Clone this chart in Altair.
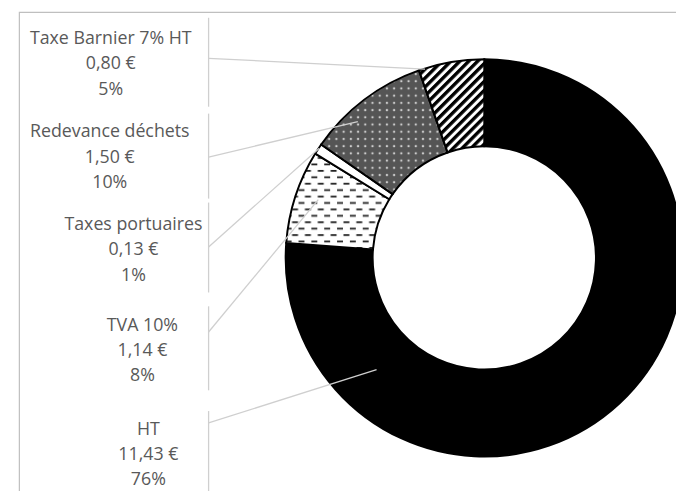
import altair as alt
import pandas as pd
import jinja2

# ---------------- data ----------------
CATEGORIES = ["HT", "TVA 10%", "Taxes portuaires", "Redevance déchets", "Taxe Barnier 7% HT"]
AMOUNTS = [11.43, 1.14, 0.13, 1.50, 0.80]

# ---------------- styles ----------------
FILLS = ["#000000", "url(#pTVA) #eeeeee", "#ffffff", "url(#pRed) #6b6b6b", "url(#pBar) #888888"]
TEXT_COLOR = "#595959"
LINE_COLOR = "#cfcfcf"

# ---------------- layout (chart pixels) ----------------
W, H = 676, 483
CX, CY, R_OUT, R_IN = 482, 250, 201, 113
LABEL_X = [142, 136, 127, 103, 104]
LABEL_Y = [429, 323.7, 222, 128, 33.7]
BAR_X = 203
BAR_Y = [405, 299, 194, 104, 7]
BAR_Y2 = [500, 384, 285, 190, 97]
LEAD_Y = [417, 325, 239, 148, 48]
LEAD_X2 = [373, 314, 315, 354, 422]
LEAD_Y2 = [363, 191, 139, 112, 59]

total = sum(AMOUNTS)
labels = [
    f"{c}\n{a:.2f}".replace(".", ",") + " €" + f"\n{round(100 * a / total)}%"
    for c, a in zip(CATEGORIES, AMOUNTS)
]

df = pd.DataFrame({
    "cat": CATEGORIES,
    "amount": AMOUNTS,
    "idx": list(range(len(CATEGORIES))),
    "label": labels,
    "lx": LABEL_X,
    "ly": LABEL_Y,
    "bx": [BAR_X] * len(CATEGORIES),
    "by": BAR_Y,
    "by2": BAR_Y2,
    "ex": LEAD_X2,
    "ey": LEAD_Y,
    "ey2": LEAD_Y2,
})

frame = alt.Chart(pd.DataFrame({"a": [0]})).mark_rect(
    fillOpacity=0, stroke="#bfbfbf", strokeWidth=1.2
).encode(
    x=alt.value(11.5), x2=alt.value(W + 50), y=alt.value(1.5), y2=alt.value(H + 50)
)

arcs = alt.Chart(df).mark_arc(
    radius=R_OUT, radius2=R_IN, x=CX, y=CY, stroke="#000000", strokeWidth=2
).encode(
    theta=alt.Theta("amount:Q", stack=True),
    order=alt.Order("idx:Q"),
    fill=alt.Fill("cat:N", scale=alt.Scale(domain=CATEGORIES, range=FILLS), legend=None),
)

bars = alt.Chart(df).mark_rule(color=LINE_COLOR, strokeWidth=1.3).encode(
    x=alt.X("bx:Q", scale=None),
    y=alt.Y("by:Q", scale=None),
    y2="by2:Q",
)

leaders = alt.Chart(df).mark_rule(color=LINE_COLOR, strokeWidth=1.3).encode(
    x=alt.X("bx:Q", scale=None),
    x2="ex:Q",
    y=alt.Y("ey:Q", scale=None),
    y2="ey2:Q",
)

texts = alt.Chart(df).mark_text(
    font="Open Sans", fontSize=18, color=TEXT_COLOR, align="center",
    baseline="alphabetic", lineBreak="\n", lineHeight=25.5
).encode(
    x=alt.X("lx:Q", scale=None),
    y=alt.Y("ly:Q", scale=None),
    text="label:N",
)

chart = alt.layer(frame, arcs, leaders, bars, texts).properties(
    width=W, height=H, padding=0, autosize=alt.AutoSizeParams(type="none"),
    background="#ffffff",
).configure_view(strokeWidth=0)

TEMPLATE = jinja2.Template("""<!DOCTYPE html>
<html>
<head>
  <meta charset="utf-8">
  <style>
    #{{ output_div }}.vega-embed { width: 100%; display: flex; }
    #{{ output_div }}.vega-embed details,
    #{{ output_div }}.vega-embed details summary { position: relative; }
  </style>
  <script type="text/javascript" src="{{ base_url }}/vega@{{ vega_version }}"></script>
  <script type="text/javascript" src="{{ base_url }}/vega-lite@{{ vegalite_version }}"></script>
  <script type="text/javascript" src="{{ base_url }}/vega-embed@{{ vegaembed_version }}"></script>
</head>
<body>
  <svg width="0" height="0" style="position:absolute;left:0;top:0" aria-hidden="true">
    <defs>
      <pattern id="pBar" patternUnits="userSpaceOnUse" width="6.4" height="6.4" patternTransform="rotate(45)">
        <rect width="6.4" height="6.4" fill="#ffffff"/>
        <rect width="3.4" height="6.4" fill="#000000"/>
      </pattern>
      <pattern id="pTVA" patternUnits="userSpaceOnUse" width="13" height="13">
        <rect width="13" height="13" fill="#ffffff"/>
        <rect x="0.5" y="2" width="6" height="1.8" fill="#222222"/>
        <rect x="7" y="8.5" width="6" height="1.8" fill="#222222"/>
      </pattern>
      <pattern id="pRed" patternUnits="userSpaceOnUse" width="7.3" height="7.3">
        <rect width="7.3" height="7.3" fill="#555555"/>
        <rect x="2.5" y="3.3" width="2.3" height="0.8" fill="#ffffff"/>
        <rect x="3.25" y="2.55" width="0.8" height="2.3" fill="#ffffff"/>
      </pattern>
    </defs>
  </svg>
  <div id="{{ output_div }}"></div>
  <script>
    (function(vegaEmbed) {
      var spec = {{ spec }};
      var embedOpt = {{ embed_options }};
      function showError(el, error){
        el.innerHTML = ('<div style="color:red;"><p>JavaScript Error: ' + error.message + '</p></div>');
        throw error;
      }
      const el = document.getElementById('{{ output_div }}');
      vegaEmbed("#{{ output_div }}", spec, embedOpt).catch(error => showError(el, error));
    })(vegaEmbed);
  </script>
</body>
</html>
""")

chart.save("out.html", embed_options={"renderer": "svg", "actions": False}, template=TEMPLATE)
